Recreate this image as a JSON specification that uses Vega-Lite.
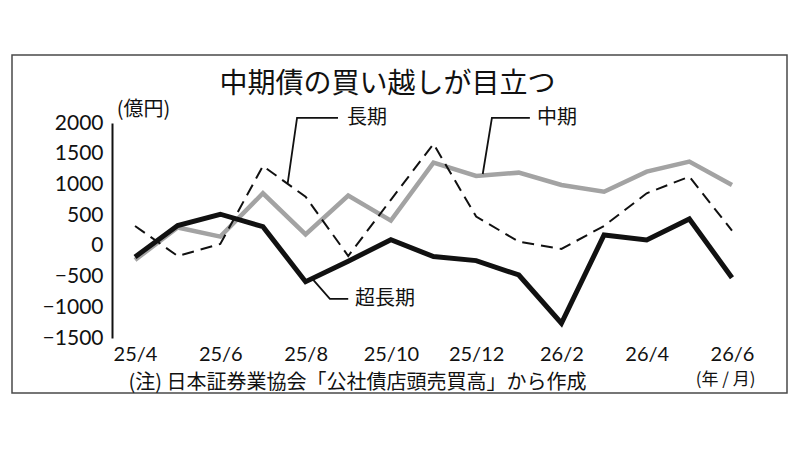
{
  "$schema": "https://vega.github.io/schema/vega-lite/v6.json",
  "width": 775,
  "height": 338,
  "autosize": "none",
  "padding": {"left": 12, "top": 55, "right": 13, "bottom": 57},
  "background": "white",
  "config": {
    "font": "Noto Sans CJK JP",
    "view": {"stroke": "#4a4a4a", "strokeWidth": 1.5}
  },
  "title": {
    "text": "中期債の買い越しが目立つ",
    "anchor": "middle",
    "frame": "group",
    "offset": -58,
    "baseline": "middle",
    "dx": -12,
    "fontSize": 28,
    "fontWeight": "normal",
    "color": "#111111"
  },
  "datasets": {
    "bonds": [
      {"n": 0, "month": "25/4", "mid": -230, "long": 324, "superlong": -180},
      {"n": 1, "month": "25/5", "mid": 300, "long": -165, "superlong": 330},
      {"n": 2, "month": "25/6", "mid": 150, "long": 31, "superlong": 515},
      {"n": 3, "month": "25/7", "mid": 856, "long": 1300, "superlong": 313},
      {"n": 4, "month": "25/8", "mid": 188, "long": 800, "superlong": -583},
      {"n": 5, "month": "25/9", "mid": 818, "long": -165, "superlong": -250},
      {"n": 6, "month": "25/10", "mid": 411, "long": 750, "superlong": 100},
      {"n": 7, "month": "25/11", "mid": 1355, "long": 1660, "superlong": -175},
      {"n": 8, "month": "25/12", "mid": 1138, "long": 476, "superlong": -240},
      {"n": 9, "month": "26/1", "mid": 1192, "long": 69, "superlong": -474},
      {"n": 10, "month": "26/2", "mid": 991, "long": -50, "superlong": -1260},
      {"n": 11, "month": "26/3", "mid": 882, "long": 324, "superlong": 177},
      {"n": 12, "month": "26/4", "mid": 1208, "long": 856, "superlong": 96},
      {"n": 13, "month": "26/5", "mid": 1371, "long": 1127, "superlong": 438},
      {"n": 14, "month": "26/6", "mid": 991, "long": 248, "superlong": -518}
    ],
    "leaders": [
      {"label": "長期", "k": 0, "x": 3.58, "y": 1019},
      {"label": "長期", "k": 1, "x": 3.8, "y": 2082},
      {"label": "長期", "k": 2, "x": 4.76, "y": 2082},
      {"label": "中期", "k": 0, "x": 8.155, "y": 1170},
      {"label": "中期", "k": 1, "x": 8.37, "y": 2082},
      {"label": "中期", "k": 2, "x": 9.26, "y": 2082},
      {"label": "超長期", "k": 0, "x": 4.18, "y": -554},
      {"label": "超長期", "k": 1, "x": 4.57, "y": -864},
      {"label": "超長期", "k": 2, "x": 5.0, "y": -864}
    ],
    "labels": [
      {"text": "長期", "x": 4.97, "y": 2082},
      {"text": "中期", "x": 9.43, "y": 2082},
      {"text": "超長期", "x": 5.16, "y": -864}
    ],
    "units": [
      {"text": "(年 / 月)", "x": 13.85, "y": -2185}
    ]
  },
  "layer": [
    {
      "mark": {"type": "rule", "color": "#111111", "strokeWidth": 1.5},
      "encoding": {
        "x": {
          "datum": -0.5,
          "type": "quantitative",
          "scale": {"domain": [-0.5, 14.5], "range": [101.7, 741.3], "nice": false, "zero": false},
          "axis": {
            "values": [0, 2, 4, 6, 8, 10, 12, 14],
            "labelExpr": "['25/4','25/5','25/6','25/7','25/8','25/9','25/10','25/11','25/12','26/1','26/2','26/3','26/4','26/5','26/6'][datum.value]",
            "offset": -52,
            "domain": false,
            "ticks": false,
            "grid": false,
            "labelPadding": 3,
            "labelFont": "Lato",
            "labelFontSize": 20,
            "labelColor": "#111111",
            "title": "(注) 日本証券業協会「公社債店頭売買高」から作成",
            "titleX": 116,
            "titleY": 41,
            "titleAlign": "left",
            "titleBaseline": "middle",
            "titleFontSize": 20,
            "titleFontWeight": "normal",
            "titleColor": "#111111"
          }
        },
        "x2": {"datum": 14.5},
        "y": {
          "datum": 0,
          "type": "quantitative",
          "scale": {"domain": [-1500, 2000], "range": [283, 68], "nice": false, "zero": false},
          "axis": {
            "values": [-1500, -1000, -500, 0, 500, 1000, 1500, 2000],
            "format": "d",
            "offset": -100,
            "ticks": false,
            "grid": false,
            "domainColor": "#111111",
            "domainWidth": 2,
            "labelFont": "Lato",
            "labelFontSize": 21,
            "labelPadding": 9,
            "labelColor": "#111111",
            "title": "(億円)",
            "titleAngle": 0,
            "titleX": 31,
            "titleY": 54,
            "titleAlign": "center",
            "titleBaseline": "middle",
            "titleFontSize": 20,
            "titleFontWeight": "normal",
            "titleColor": "#111111"
          }
        }
      }
    },
    {
      "data": {"name": "bonds"},
      "mark": {"type": "line", "color": "#a3a3a3", "strokeWidth": 4.5},
      "encoding": {
        "x": {"field": "n", "type": "quantitative"},
        "y": {"field": "mid", "type": "quantitative"}
      }
    },
    {
      "data": {"name": "bonds"},
      "mark": {"type": "line", "color": "#111111", "strokeWidth": 2, "strokeDash": [12, 7]},
      "encoding": {
        "x": {"field": "n", "type": "quantitative"},
        "y": {"field": "long", "type": "quantitative"}
      }
    },
    {
      "data": {"name": "bonds"},
      "mark": {"type": "line", "color": "#111111", "strokeWidth": 5},
      "encoding": {
        "x": {"field": "n", "type": "quantitative"},
        "y": {"field": "superlong", "type": "quantitative"}
      }
    },
    {
      "data": {"name": "leaders"},
      "mark": {"type": "line", "color": "#111111", "strokeWidth": 1.8},
      "encoding": {
        "x": {"field": "x", "type": "quantitative"},
        "y": {"field": "y", "type": "quantitative"},
        "detail": {"field": "label"},
        "order": {"field": "k"}
      }
    },
    {
      "data": {"name": "labels"},
      "mark": {"type": "text", "align": "left", "baseline": "middle", "fontSize": 20, "color": "#111111"},
      "encoding": {
        "x": {"field": "x", "type": "quantitative"},
        "y": {"field": "y", "type": "quantitative"},
        "text": {"field": "text"}
      }
    },
    {
      "data": {"name": "units"},
      "mark": {"type": "text", "align": "center", "baseline": "middle", "fontSize": 17, "color": "#111111"},
      "encoding": {
        "x": {"field": "x", "type": "quantitative"},
        "y": {"field": "y", "type": "quantitative"},
        "text": {"field": "text"}
      }
    }
  ]
}
